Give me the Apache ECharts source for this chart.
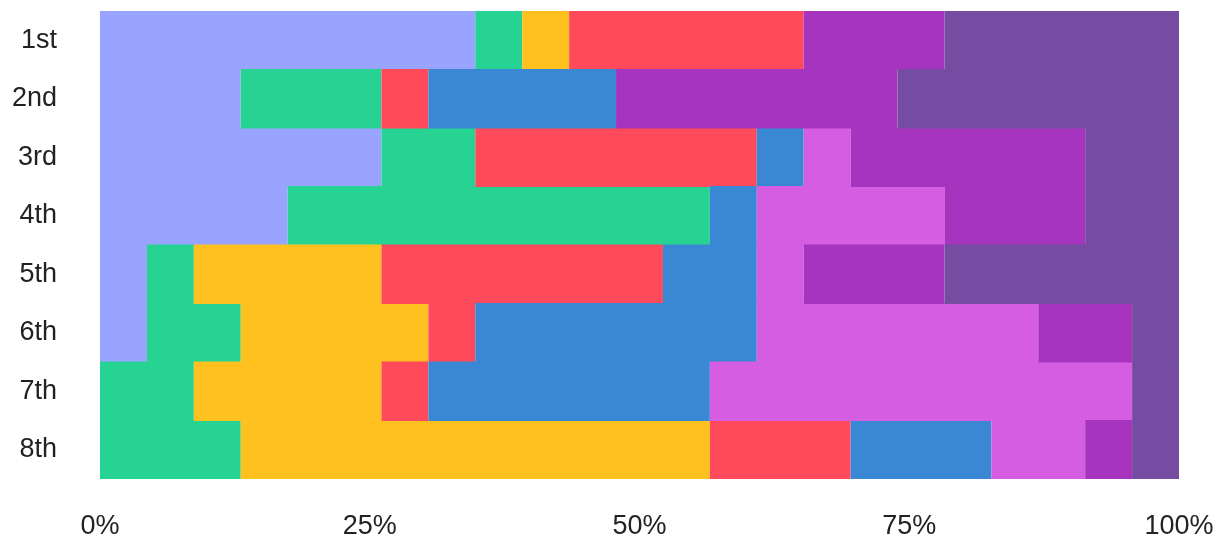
<!DOCTYPE html>
<html><head><meta charset="utf-8">
<script src="https://cdn.jsdelivr.net/npm/echarts@6/dist/echarts.min.js"></script>
<style>html,body{margin:0;padding:0;background:#fff}#c{width:1227px;height:543px}</style>
</head><body><div id="c"></div>
<script>
const categories = ['1st','2nd','3rd','4th','5th','6th','7th','8th'];
const seriesNames = ['A','B','C','D','E','F','G','H'];
const colors = ['#98a4ff','#26d393','#fec11f','#fe4a5b','#3a88d3','#d55de2','#a634bf','#754ca1'];
// counts per category (each row totals 23)
const sA = [8,3,6,4,1,1,0,0];
const sB = [1,3,2,9,1,2,2,3];
const sC = [1,0,0,0,4,4,4,10];
const sD = [5,1,6,0,6,1,1,3];
const sE = [0,4,1,1,2,6,6,3];
const sF = [0,0,1,4,1,6,9,2];
const sG = [3,6,5,3,3,2,0,1];
const sH = [5,6,2,2,5,1,1,1];
const xTicks = ['0%','25%','50%','75%','100%'];

const all = [sA,sB,sC,sD,sE,sF,sG,sH];
const totals = categories.map((_, i) => all.reduce((s, a) => s + a[i], 0));
const FONT = "'Liberation Sans', Arial, sans-serif";
const chart = echarts.init(document.getElementById('c'));
chart.setOption({
  animation: false,
  grid: {left: 100, right: 48, top: 11, bottom: 64},
  xAxis: {
    type: 'value', min: 0, max: 100, interval: 25,
    axisLine: {show: false}, axisTick: {show: false}, splitLine: {show: false},
    axisLabel: {formatter: v => xTicks[v / 25], fontSize: 27, color: '#222', margin: 34, fontFamily: FONT}
  },
  yAxis: {
    type: 'category', data: categories, inverse: true,
    axisLine: {show: false}, axisTick: {show: false},
    axisLabel: {fontSize: 27, color: '#222', margin: 43, fontFamily: FONT}
  },
  series: all.map((arr, k) => ({
    name: seriesNames[k], type: 'bar', stack: 'total', barWidth: '101.5%',
    itemStyle: {color: colors[k]},
    data: arr.map((v, i) => v / totals[i] * 100)
  }))
});
</script></body></html>
